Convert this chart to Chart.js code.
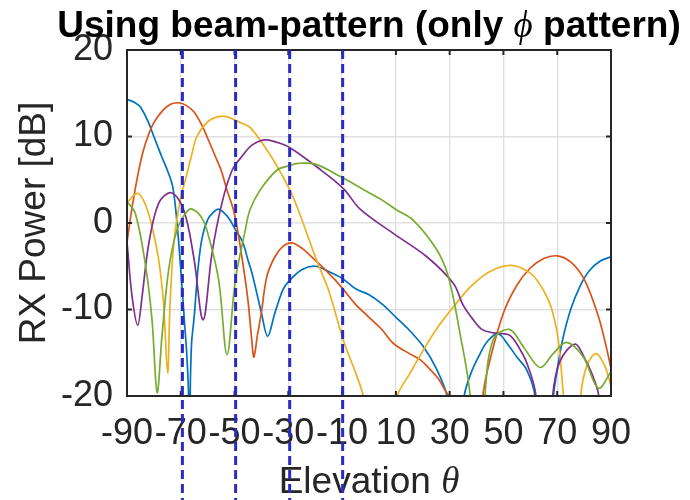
<!DOCTYPE html>
<html>
<head>
<meta charset="utf-8">
<script src="https://cdn.jsdelivr.net/npm/chart.js@4"></script>
<style>
  body { margin: 0; background: #fff; }
  #wrap { width: 690px; height: 500px; }
</style>
</head>
<body>
<div id="wrap"><canvas id="beamChart"></canvas></div>
<script>
// Elevation angle (deg) and RX power (dB) of each beam
const blueAngle = [-90, -87, -85, -82, -80, -77, -75, -73, -71.4, -70, -68.5, -67.8, -67.1, -66.8, -66.5, -66, -65, -63.5, -62, -60, -58, -56, -54, -52, -50, -47, -45, -43.5, -40, -37.7, -35, -32, -30, -25, -20, -15, -10, -5, 0, 5, 10, 15, 20, 25, 29, 31, 32.5, 34, 35.4, 38, 41, 44, 48, 52, 55, 58.7, 61.7, 65, 68.6, 70, 72, 75, 78.5, 82, 86, 90];
const bluePower = [14.3, 13.9, 13.4, 11.6, 10.0, 7.6, 6.1, 4.2, 0, -5.4, -12, -15, -20, -35, -20, -14, -10.8, -5, -1.6, 0.4, 1.2, 1.6, 1.2, 0.5, -0.6, -2.2, -4.3, -5.8, -10.4, -13.1, -10.4, -7.7, -6.8, -5.4, -5.0, -5.6, -6.4, -7.6, -8.3, -9.4, -10.9, -12.4, -14.2, -16.8, -20, -26, -38, -26, -20, -17.3, -15.3, -13.7, -12.8, -14.2, -15.5, -17, -20, -38, -20, -17, -13.5, -10, -7.3, -5.5, -4.4, -3.9];

const orangeAngle = [-90, -88, -86, -84, -82, -80, -77, -74, -71, -68, -65, -62, -60, -57, -55, -52.8, -50, -47, -45, -43.6, -42.8, -41.5, -40, -38, -35, -32, -28.7, -25, -20, -15, -10, -5, 0, 5, 9, 15, 19, 22, 25.8, 28, 29.5, 32, 36, 40, 42.3, 45, 50, 55, 60, 65, 70, 75, 80, 85, 88, 90];
const orangePower = [-2.2, 2.0, 5.5, 8.3, 10.2, 11.6, 12.9, 13.7, 13.9, 13.6, 12.8, 11.2, 9.8, 7.6, 6.1, 3.8, 1.0, -4.5, -9, -13.5, -15.5, -13, -10.3, -6.2, -3.9, -2.7, -2.3, -2.9, -4.3, -5.8, -7.5, -9.4, -10.9, -12.4, -13.9, -15.1, -15.8, -16.7, -18, -19.2, -20, -28, -40, -28, -20, -15.8, -10.4, -7.2, -5.2, -4.1, -3.8, -4.5, -6.5, -10.5, -14, -16.8];

const yellowAngle = [-90, -87.5, -85.6, -83, -80.7, -78.2, -76.4, -74.9, -74, -72.5, -70, -68, -66, -64, -60, -56, -53, -50, -45, -43.5, -40.5, -35, -29.4, -26.3, -19.5, -15, -9.6, -5, -2.1, 0, 4, 8, 10.5, 15, 20.2, 25, 31.4, 38, 45, 53, 60, 64, 66.1, 68, 70.4, 72.3, 75.5, 78.7, 80.9, 84.4, 87.8, 90];
const yellowPower = [2.3, 3.2, 3.4, 2.0, -0.4, -4.3, -9.3, -17.3, -9.5, -2, 3.0, 5.3, 7.8, 10, 11.7, 12.3, 12.3, 11.9, 11.2, 10.8, 9.6, 7, 3.8, 1.5, -4.3, -7.8, -13.5, -17.3, -20, -24, -35, -25, -20, -17.5, -14.7, -12.3, -9.7, -7.3, -5.6, -4.9, -5.8, -7.3, -8.5, -10, -13.5, -20, -32, -20, -16.6, -15.1, -16.6, -18.9];

const purpleAngle = [-90, -88.1, -86, -84.4, -81.9, -78.2, -73.5, -68.9, -65.2, -61.7, -58.4, -54.7, -50.9, -47, -43.5, -38.7, -34, -29.4, -19.5, -9.6, -3.3, 9, 21.5, 31.4, 35, 38.8, 42, 46.2, 50, 52.4, 55, 58.7, 62.1, 65, 68.3, 71, 76.6, 80, 83, 85.3, 87, 90];
const purplePower = [-2.2, -8.5, -11.8, -8.5, -2.4, 2.3, 3.5, 1.5, -3.9, -11.2, -3.5, 2.3, 6.1, 7.8, 9.0, 9.6, 9.3, 8.7, 6.5, 4.0, 1.6, -1.2, -3.9, -7.0, -9.5, -11.2, -12.3, -12.7, -12.8, -13, -14, -16.2, -20, -35, -20, -16, -14.0, -15.5, -17.5, -19.7, -24, -22];

const greenAngle = [-90, -86.9, -83.2, -80.7, -78.8, -77, -74.5, -71.4, -68, -65.8, -62, -59.6, -55.9, -52.8, -49.7, -46, -44.3, -40.5, -34.3, -30, -26.3, -20, -10.8, 0, 4.6, 10.3, 16.5, 25.2, 29.5, 33.8, 37.6, 40, 43.1, 46.2, 52.2, 57.4, 63.6, 68.5, 73.5, 79.7, 85.3, 90];
const greenPower = [2.5, 1.1, -4.7, -11.2, -19.6, -13.1, -5.4, -0.8, 1.2, 1.6, 0.5, -1.6, -6.6, -15.2, -6.6, -0.8, 1.5, 3.8, 6.1, 6.6, 6.9, 6.8, 5.4, 3.5, 2.7, 1.5, 0.3, -3.1, -6.2, -12.7, -20, -35, -20, -13.5, -12.3, -14.3, -16.7, -15.1, -13.8, -15.5, -19.1, -17.2];

// steering angles of the beams (dashed markers)
const beamAngles = [-69.4, -49.6, -29.5, -9.8];

const xTickValues = [-90, -70, -50, -30, -10, 10, 30, 50, 70, 90];
const yTickValues = [-20, -10, 0, 10, 20];

const SANS = '"Liberation Sans", Arial, Helvetica, sans-serif';
const SERIF = '"Liberation Serif", "Times New Roman", serif';
const AXIS_COLOR = '#262626';

function toPoints(angles, powers) {
    return angles.map((a, i) => ({ x: a, y: powers[i] }));
}

function makeSeries(angles, powers, color, order) {
    return {
        data: toPoints(angles, powers),
        borderColor: color,
        borderWidth: 1.7,
        pointRadius: 0,
        fill: false,
        tension: 0.35,
        order: order
    };
}

// draw a line of text made of differently styled pieces, centred on cx
function drawMixed(ctx, parts, cx, baseline, color) {
    let total = 0;
    parts.forEach(p => {
        ctx.font = p.font;
        p.w = ctx.measureText(p.text).width;
        total += p.w;
    });
    let pos = cx - total / 2;
    ctx.fillStyle = color;
    ctx.textAlign = 'left';
    ctx.textBaseline = 'alphabetic';
    parts.forEach(p => {
        ctx.font = p.font;
        ctx.fillText(p.text, pos, baseline);
        pos += p.w;
    });
}

// box round the axes with the small inward tick marks
const frameTicks = {
    id: 'frameTicks',
    afterDatasetsDraw(chart) {
        const { ctx, chartArea: a, scales: { x, y } } = chart;
        ctx.save();
        ctx.strokeStyle = AXIS_COLOR;
        ctx.lineWidth = 2;
        ctx.beginPath();
        x.ticks.forEach(t => {
            const px = x.getPixelForValue(t.value);
            ctx.moveTo(px, a.bottom); ctx.lineTo(px, a.bottom - 5);
            ctx.moveTo(px, a.top); ctx.lineTo(px, a.top + 5);
        });
        y.ticks.forEach(t => {
            const py = y.getPixelForValue(t.value);
            ctx.moveTo(a.left, py); ctx.lineTo(a.left + 5, py);
            ctx.moveTo(a.right, py); ctx.lineTo(a.right - 5, py);
        });
        ctx.stroke();
        ctx.strokeRect(a.left, a.top, a.right - a.left, a.bottom - a.top);
        ctx.restore();
    }
};

// title and x label, both with a TeX-style greek letter
const texts = {
    id: 'texts',
    afterDraw(chart) {
        const { ctx, chartArea: a } = chart;
        const cx = (a.left + a.right) / 2;
        ctx.save();
        drawMixed(ctx, [
            { text: 'Using beam-pattern (only ', font: 'bold 37px ' + SANS },
            { text: '\u03D5', font: 'italic 37px ' + SERIF },
            { text: ' pattern)', font: 'bold 37px ' + SANS }
        ], cx, a.top - 13, '#000');
        drawMixed(ctx, [
            { text: 'Elevation ', font: '37px ' + SANS },
            { text: '\u03B8', font: 'italic 37px ' + SERIF }
        ], cx, a.bottom + 97, AXIS_COLOR);
        ctx.restore();
    }
};

// dashed markers at the beam directions, running down past the axis
const beamLines = {
    id: 'beamLines',
    afterDraw(chart) {
        const { ctx, chartArea: a, scales: { x } } = chart;
        ctx.save();
        ctx.strokeStyle = '#2a2ac4';
        ctx.lineWidth = 3;
        ctx.setLineDash([9, 5]);
        beamAngles.forEach(v => {
            const px = x.getPixelForValue(v);
            ctx.beginPath();
            ctx.moveTo(px, a.top);
            ctx.lineTo(px, chart.height);
            ctx.stroke();
        });
        ctx.restore();
    }
};

const ctx = document.getElementById('beamChart').getContext('2d');
const chart = new Chart(ctx, {
    type: 'line',
    data: {
        datasets: [
            makeSeries(blueAngle, bluePower, '#0072BD', 5),
            makeSeries(orangeAngle, orangePower, '#D95319', 4),
            makeSeries(yellowAngle, yellowPower, '#EDB120', 3),
            makeSeries(purpleAngle, purplePower, '#7E2F8E', 2),
            makeSeries(greenAngle, greenPower, '#77AC30', 1)
        ]
    },
    options: {
        responsive: true,
        maintainAspectRatio: false,
        devicePixelRatio: 1,
        animation: false,
        layout: { padding: { top: 50, right: 79, left: 0, bottom: 0 } },
        plugins: {
            legend: { display: false },
            tooltip: { enabled: false }
        },
        scales: {
            x: {
                type: 'linear',
                min: -90,
                max: 90,
                afterBuildTicks: s => { s.ticks = xTickValues.map(v => ({ value: v })); },
                afterFit: s => { s.height = 104; },
                grid: { color: '#e0e0e0', lineWidth: 1.4, drawTicks: false },
                border: { display: false },
                ticks: {
                    color: AXIS_COLOR,
                    font: { family: SANS, size: 36 },
                    padding: 16,
                    maxRotation: 0,
                    autoSkip: false
                }
            },
            y: {
                min: -20,
                max: 20,
                afterBuildTicks: s => { s.ticks = yTickValues.map(v => ({ value: v })); },
                afterFit: s => { s.width = 127; },
                grid: { color: '#e0e0e0', lineWidth: 1.4, drawTicks: false },
                border: { display: false },
                ticks: {
                    color: AXIS_COLOR,
                    font: { family: SANS, size: 36 },
                    padding: 14
                },
                title: {
                    display: true,
                    text: 'RX Power [dB]',
                    color: AXIS_COLOR,
                    font: { family: SANS, size: 37 },
                    padding: { top: 13, bottom: 0 }
                }
            }
        }
    },
    plugins: [frameTicks, texts, beamLines]
});
</script>
</body>
</html>
